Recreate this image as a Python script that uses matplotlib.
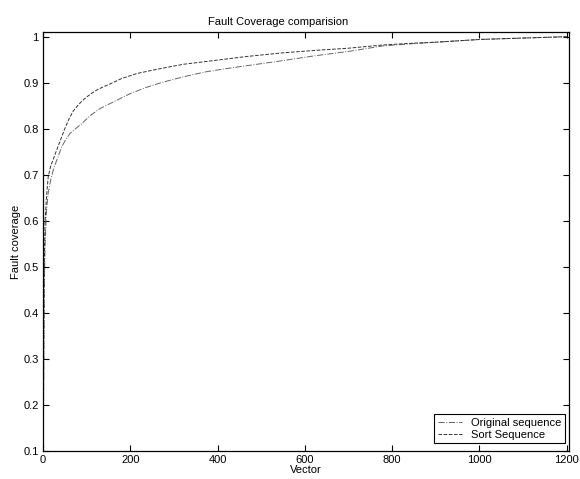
import numpy as np
import matplotlib.pyplot as plt

plt.rcParams['font.family'] = ['Liberation Sans', 'DejaVu Sans']

# Sort Sequence (dashed)
sort_x = [1, 2, 3, 5, 8, 12, 18, 23, 30, 40, 50, 60, 69, 82, 96, 110, 123, 138,
          153, 180, 215, 260, 321, 390, 467, 550, 635, 700, 779, 850, 900,
          1001, 1100, 1200]
sort_y = [0.12, 0.35, 0.50, 0.60, 0.65, 0.695, 0.72, 0.732, 0.75, 0.775, 0.80,
          0.822, 0.838, 0.853, 0.866, 0.876, 0.884, 0.891, 0.897, 0.909, 0.92,
          0.929, 0.94, 0.948, 0.957, 0.965, 0.971, 0.975, 0.982, 0.986, 0.988,
          0.994, 0.997, 1.0]

# Original sequence (dash-dot)
orig_x = [1, 2, 3, 5, 8, 12, 18, 25, 35, 43, 52, 62, 76, 92, 110, 131, 150, 169,
          199, 234, 270, 306, 340, 375, 415, 459, 535, 619, 700, 779, 850, 900,
          1001, 1100, 1200]
orig_y = [0.12, 0.30, 0.45, 0.55, 0.62, 0.66, 0.69, 0.715, 0.74, 0.761, 0.776,
          0.79, 0.801, 0.814, 0.83, 0.844, 0.853, 0.862, 0.876, 0.889, 0.9,
          0.909, 0.917, 0.924, 0.93, 0.936, 0.946, 0.958, 0.968, 0.980, 0.985,
          0.988, 0.994, 0.997, 1.0]

x_ticks = [0, 200, 400, 600, 800, 1000, 1200]
y_ticks = [0.1, 0.2, 0.3, 0.4, 0.5, 0.6, 0.7, 0.8, 0.9, 1.0]
y_labels = ['0.1', '0.2', '0.3', '0.4', '0.5', '0.6', '0.7', '0.8', '0.9', '1']

fig = plt.figure(figsize=(5.8, 4.79), dpi=100)
ax = fig.add_axes([0.074, 0.058, 0.907, 0.876])

ax.plot(orig_x, orig_y, color='#666666', linestyle='-.', linewidth=0.7,
        label='Original sequence')
ax.plot(sort_x, sort_y, color='#333333', linestyle='--', linewidth=0.7,
        label='Sort Sequence')

ax.set_xlim(0, 1205)
ax.set_ylim(0.1, 1.011)
ax.set_xticks(x_ticks)
ax.set_yticks(y_ticks)
ax.set_yticklabels(y_labels)
ax.tick_params(direction='in', top=True, right=True, length=4, width=0.8,
               labelsize=8, pad=3)
for s in ax.spines.values():
    s.set_linewidth(0.9)

ax.set_title('Fault Coverage comparision', fontsize=8, pad=5, x=0.447)
ax.set_xlabel('Vector', fontsize=8, labelpad=0)
ax.set_ylabel('Fault coverage', fontsize=8, labelpad=2)

leg = ax.legend(loc='lower right', fontsize=8, fancybox=False, framealpha=1,
                edgecolor='black', borderpad=0.3, labelspacing=0.2,
                handlelength=2.2, borderaxespad=0,
                bbox_to_anchor=(0.992, 0.019))
leg.get_frame().set_linewidth(0.8)

fig.savefig('out.png', dpi=100)
